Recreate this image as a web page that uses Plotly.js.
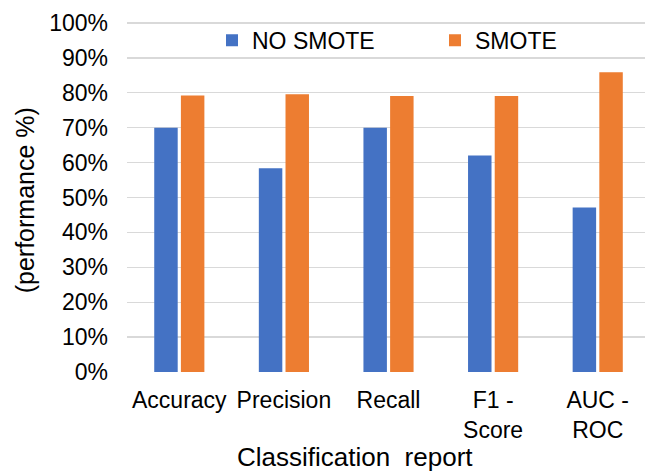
<!DOCTYPE html>
<html>
<head>
<meta charset="utf-8">
<script src="https://cdn.plot.ly/plotly-3.0.1.min.js"></script>
<style>html,body{margin:0;padding:0;background:#fff;}#chart{width:645px;height:472px;}</style>
</head>
<body>
<div id="chart"></div>
<script>
var categories = ["Accuracy", "Precision", "Recall", "F1 -<br>Score", "AUC -<br>ROC"];
var noSmote = [0.700, 0.584, 0.700, 0.620, 0.471];
var smote = [0.792, 0.796, 0.791, 0.791, 0.859];
var yTickVals = [0, 0.1, 0.2, 0.3, 0.4, 0.5, 0.6, 0.7, 0.8, 0.9, 1.0];
var yTickText = ["0%", "10%", "20%", "30%", "40%", "50%", "60%", "70%", "80%", "90%", "100%"];
var seriesNames = ["NO SMOTE", "SMOTE"];

var FONT = "Liberation Sans, Arial, sans-serif";
var PW = 518, PH = 356, PL = 127, PB = 371.7;

var data = [
  {type: "bar", name: seriesNames[0], x: categories, y: noSmote, marker: {color: "#4472C4"}, legend: "legend"},
  {type: "bar", name: seriesNames[1], x: categories, y: smote, marker: {color: "#ED7D31"}, legend: "legend2"}
];

var legendBase = {
  orientation: "h", xanchor: "left", yanchor: "middle",
  bgcolor: "rgba(0,0,0,0)", font: {family: FONT, size: 23, color: "#000"},
  borderwidth: 0
};

var layout = {
  width: 645, height: 472,
  paper_bgcolor: "#fff", plot_bgcolor: "#fff",
  font: {family: FONT, size: 23, color: "#000"},
  margin: {l: PL, r: 0, t: 15.7, b: 100.3, pad: 0},
  barmode: "group",
  bargap: 0.49,
  bargroupgap: 0.12,
  showlegend: true,
  legend: Object.assign({}, legendBase, {x: (212 - PL) / PW, y: (PB - 40) / PH}),
  legend2: Object.assign({}, legendBase, {x: (435 - PL) / PW, y: (PB - 40) / PH}),
  xaxis: {
    type: "category", range: [-0.5, 4.452],
    showgrid: false, zeroline: false, showline: false, ticks: "",
    tickfont: {family: FONT, size: 23, color: "#000"},
    ticklabelstandoff: 12, automargin: false
  },
  yaxis: {
    range: [0, 1.02], tickvals: yTickVals, ticktext: yTickText,
    showgrid: true, gridcolor: "#d9d9d9", gridwidth: 1.3,
    zeroline: false, showline: false, ticks: "",
    tickfont: {family: FONT, size: 23, color: "#000"},
    ticklabelstandoff: 18, automargin: false
  },
  annotations: [
    {text: "(performance %)", xref: "paper", yref: "paper", x: (25 - PL) / PW, y: (PB - 200) / PH,
     xanchor: "center", yanchor: "middle", textangle: -90, showarrow: false,
     font: {family: FONT, size: 25, color: "#000"}},
    {text: "Classification  report", xref: "paper", yref: "paper", x: (354.5 - PL) / PW, y: (PB - 457) / PH,
     xanchor: "center", yanchor: "middle", showarrow: false,
     font: {family: FONT, size: 26, color: "#000"}}
  ]
};

Plotly.newPlot("chart", data, layout, {displayModeBar: false, staticPlot: true});
</script>
</body>
</html>
